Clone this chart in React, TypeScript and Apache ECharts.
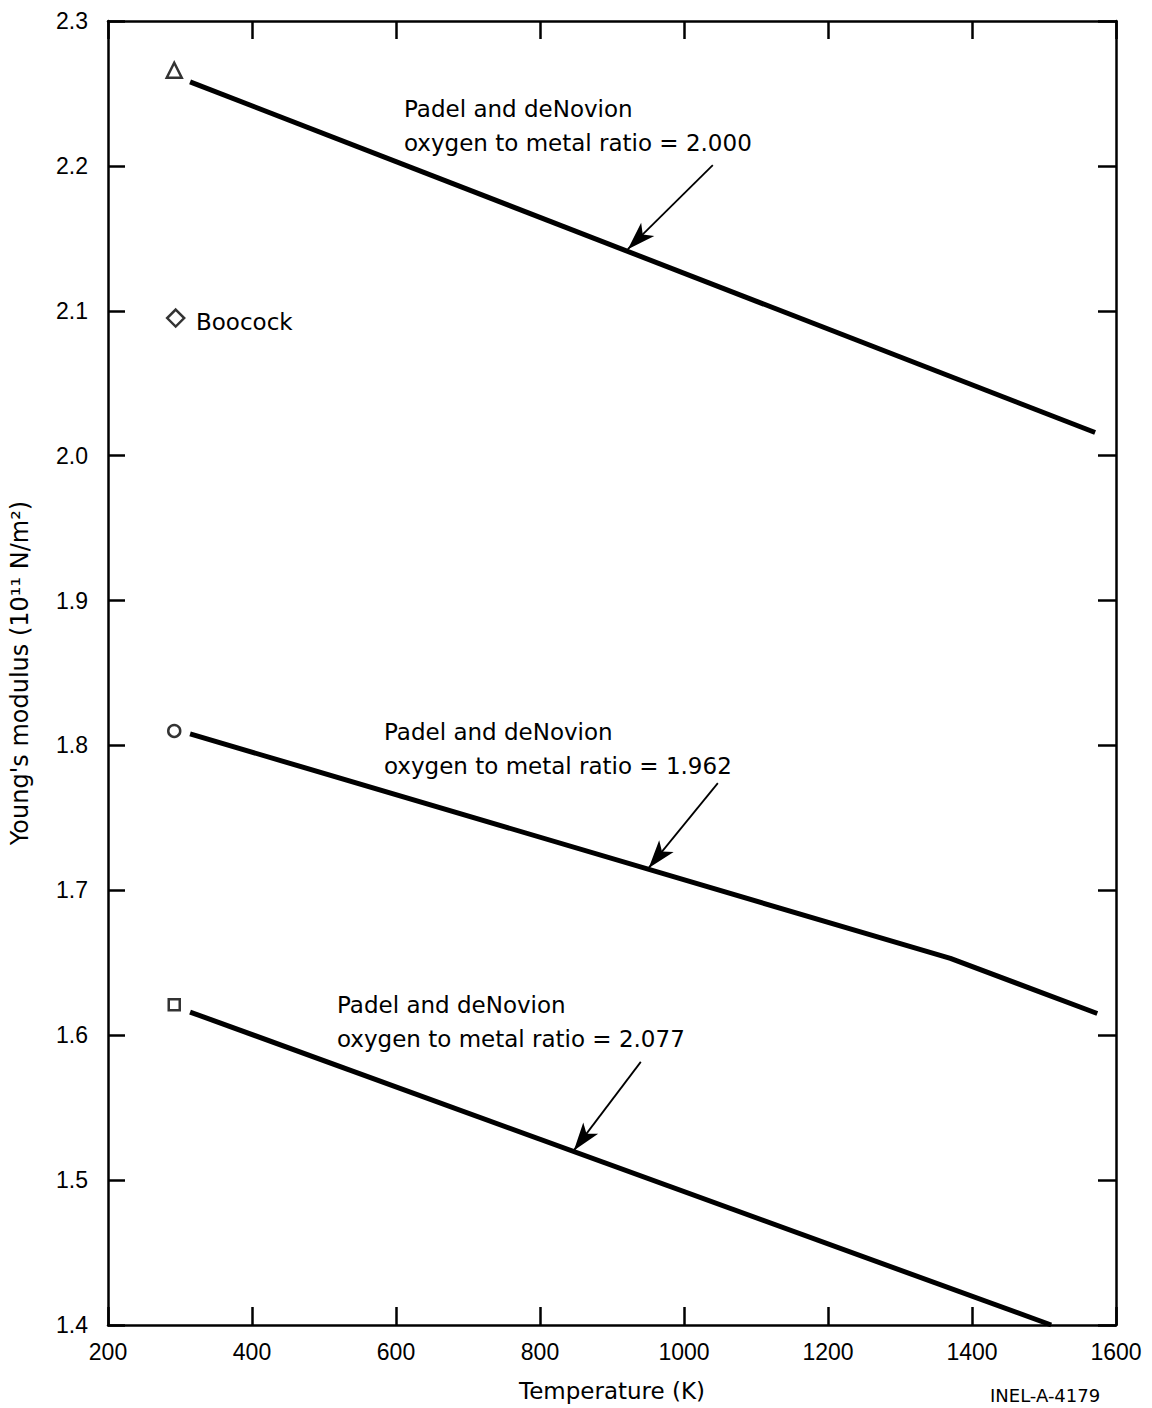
import React, { useEffect, useRef } from "react";
import * as echarts from "echarts";

// Young's modulus of UO2 vs temperature (Padel and deNovion correlations)
const tempTicks = [200, 400, 600, 800, 1000, 1200, 1400, 1600];
const modulusTicks = [1.4, 1.5, 1.6, 1.7, 1.8, 1.9, 2.0, 2.1, 2.2, 2.3];

// O/M = 2.000
const lineA: [number, number][] = [
  [314, 2.258],
  [1571, 2.016],
];
// O/M = 1.962
const lineB: [number, number][] = [
  [314, 1.808],
  [1370, 1.653],
  [1574, 1.615],
];
// O/M = 2.077
const lineC: [number, number][] = [
  [314, 1.616],
  [1510, 1.4],
];

// Room-temperature measurements
const pointTriangle: [number, number][] = [[292, 2.266]];
const pointDiamond: [number, number][] = [[294, 2.095]];
const pointCircle: [number, number][] = [[292, 1.81]];
const pointSquare: [number, number][] = [[292, 1.621]];

// Annotation arrows: [from, to] in (K, 10^11 N/m^2)
const arrowA: [number, number][] = [
  [1040, 2.2006],
  [922, 2.1425],
];
const arrowB: [number, number][] = [
  [1047, 1.774],
  [951, 1.7155],
];
const arrowC: [number, number][] = [
  [940, 1.5816],
  [847, 1.5205],
];

const FONT = "Liberation Sans";
const WIDE_FONT = "DejaVu Sans";

export default function App() {
  const ref = useRef<HTMLDivElement>(null);

  useEffect(() => {
    document.body.style.margin = "0";
    const chart = echarts.init(ref.current!, null, { renderer: "svg" });

    const axisLine = { show: true, lineStyle: { color: "#000", width: 2.5 } };
    const tickStyle = { lineStyle: { color: "#000", width: 2.5 } };

    const lineSeries = (data: [number, number][]) => ({
      type: "line",
      data,
      showSymbol: false,
      symbol: "none",
      lineStyle: { color: "#000", width: 5 },
      z: 3,
    });

    const markerSeries = (data: [number, number][], symbol: string, size: number) => ({
      type: "scatter",
      data,
      symbol,
      symbolSize: size,
      itemStyle: { color: "#fff", borderColor: "#000", borderWidth: 2.5 },
      z: 4,
    });

    const arrowSeries = (pts: [number, number][]) => ({
      type: "line",
      data: [],
      markLine: {
        silent: true,
        symbol: ["none", "arrow"],
        symbolSize: [14, 28],
        label: { show: false },
        lineStyle: { color: "#000", width: 1.8, type: "solid" },
        data: [[{ coord: pts[0] }, { coord: pts[1] }]],
      },
    });

    const textStyle = {
      fontFamily: WIDE_FONT,
      fontSize: 23,
      fill: "#000",
      lineHeight: 34,
    };

    chart.setOption({
      animation: false,
      grid: { left: 106, right: 36, top: 21, bottom: 83 },
      xAxis: [
        {
          type: "value",
          position: "bottom",
          min: 200,
          max: 1600,
          interval: 200,
          axisLine,
          axisTick: { show: true, inside: true, length: 18, ...tickStyle },
          splitLine: { show: false },
          axisLabel: {
            color: "#000",
            fontFamily: FONT,
            fontSize: 23,
            margin: 15,
            formatter: (v: number) => (tempTicks.includes(v) ? String(v) : ""),
          },
          name: "Temperature (K)",
          nameLocation: "middle",
          nameGap: 54,
          nameTextStyle: { color: "#000", fontFamily: WIDE_FONT, fontSize: 23 },
        },
        {
          type: "value",
          position: "top",
          min: 200,
          max: 1600,
          interval: 200,
          axisLine,
          axisTick: { show: true, inside: true, length: 18, ...tickStyle },
          splitLine: { show: false },
          axisLabel: { show: false },
        },
      ],
      yAxis: [
        {
          type: "value",
          position: "left",
          min: 1.4,
          max: 2.3,
          interval: 0.1,
          axisLine,
          axisTick: { show: true, inside: true, length: 17, ...tickStyle },
          splitLine: { show: false },
          axisLabel: {
            color: "#000",
            fontFamily: FONT,
            fontSize: 23,
            margin: 20,
            formatter: (v: number) => {
              const t = modulusTicks.find((m) => Math.abs(m - v) < 1e-6);
              return t === undefined ? "" : t.toFixed(1);
            },
          },
          name: "Young's modulus (10¹¹ N/m²)",
          nameLocation: "middle",
          nameGap: 76,
          nameRotate: 90,
          nameTextStyle: { color: "#000", fontFamily: WIDE_FONT, fontSize: 24 },
        },
        {
          type: "value",
          position: "right",
          min: 1.4,
          max: 2.3,
          interval: 0.1,
          axisLine,
          axisTick: { show: true, inside: true, length: 18, ...tickStyle },
          splitLine: { show: false },
          axisLabel: { show: false },
        },
      ],
      series: [
        lineSeries(lineA),
        lineSeries(lineB),
        lineSeries(lineC),
        markerSeries(pointTriangle, "triangle", 15),
        markerSeries(pointDiamond, "diamond", 17),
        markerSeries(pointCircle, "circle", 12),
        markerSeries(pointSquare, "rect", 11),
        arrowSeries(arrowA),
        arrowSeries(arrowB),
        arrowSeries(arrowC),
      ],
      graphic: [
        {
          type: "text",
          left: 404,
          top: 92,
          style: { ...textStyle, text: "Padel and deNovion\noxygen to metal ratio = 2.000" },
        },
        {
          type: "text",
          left: 384,
          top: 715,
          style: { ...textStyle, text: "Padel and deNovion\noxygen to metal ratio = 1.962" },
        },
        {
          type: "text",
          left: 337,
          top: 988,
          style: { ...textStyle, text: "Padel and deNovion\noxygen to metal ratio = 2.077" },
        },
        {
          type: "text",
          left: 196,
          top: 305,
          style: { ...textStyle, text: "Boocock" },
        },
        {
          type: "text",
          left: 990,
          top: 1386,
          style: { fontFamily: WIDE_FONT, fontSize: 18, fill: "#000", text: "INEL-A-4179" },
        },
      ],
    });

    return () => chart.dispose();
  }, []);

  return <div ref={ref} style={{ width: 1152, height: 1408 }} />;
}
